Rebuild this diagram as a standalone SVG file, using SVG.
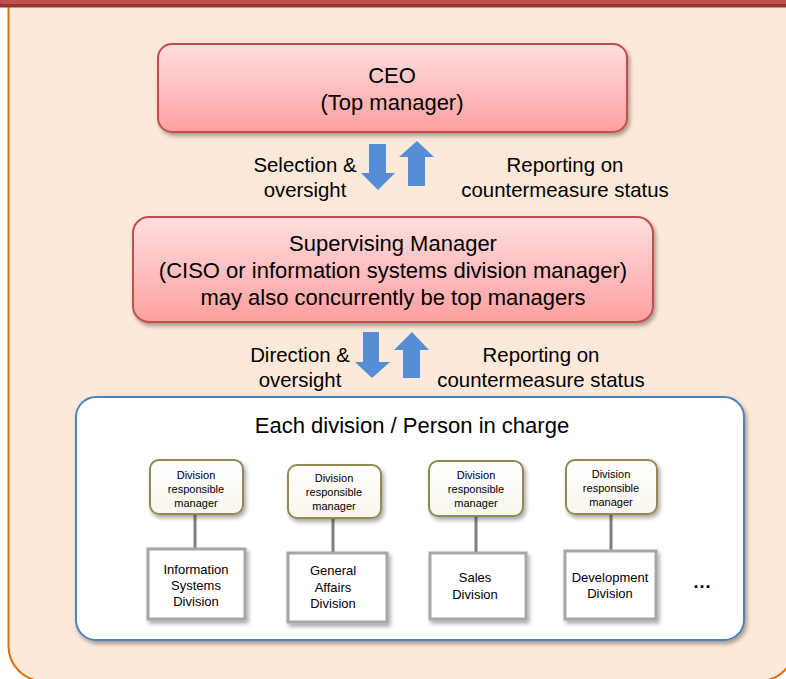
<svg xmlns="http://www.w3.org/2000/svg" width="786" height="679" viewBox="0 0 786 679">
<defs>
<linearGradient id="pink" x1="0" y1="0" x2="0" y2="1">
<stop offset="0" stop-color="#ffdfe0"/>
<stop offset="1" stop-color="#ff9f9f"/>
</linearGradient>
<linearGradient id="cream" x1="0" y1="0" x2="0" y2="1">
<stop offset="0" stop-color="#ffffff"/>
<stop offset="1" stop-color="#f8f6ec"/>
</linearGradient>
<filter id="sh" x="-10%" y="-10%" width="125%" height="130%">
<feGaussianBlur in="SourceAlpha" stdDeviation="2"/>
<feOffset dx="2" dy="3" result="b"/>
<feComponentTransfer><feFuncA type="linear" slope="0.35"/></feComponentTransfer>
<feMerge><feMergeNode/><feMergeNode in="SourceGraphic"/></feMerge>
</filter>
<style>
text{font-family:"Liberation Sans",Arial,sans-serif;fill:#000;text-anchor:middle}
.big{font-size:22px}
.lbl{font-size:20.4px}
.sm{font-size:11px}
.dv{font-size:13px}
.mgr{fill:url(#cream);stroke:#938953;stroke-width:2}
.div{fill:#fff;stroke:#a6a6a6;stroke-width:3}
.conn{stroke:#7f7f7f;stroke-width:3}
.arr{fill:#558ed5}
</style>
</defs>
<rect x="0" y="0" width="786" height="679" fill="#ffffff"/>
<rect x="8.5" y="-40" width="786" height="721" rx="35" fill="#fde9d9" stroke="#e36c09" stroke-width="2"/>
<rect x="0" y="0" width="786" height="4" fill="#c0504d"/>
<rect x="0" y="4" width="786" height="3.5" fill="#943634"/>

<g id="ceo">
<rect x="158" y="44" width="469" height="88" rx="14" fill="url(#pink)" stroke="#c0504d" stroke-width="2" filter="url(#sh)"/>
<text class="big" x="392" y="83">CEO</text>
<text class="big" x="392" y="110">(Top manager)</text>
</g>

<g id="supervisor">
<rect x="133" y="217" width="520" height="105" rx="16" fill="url(#pink)" stroke="#c0504d" stroke-width="2" filter="url(#sh)"/>
<text class="big" x="393" y="251">Supervising Manager</text>
<text class="big" x="393" y="278">(CISO or information systems division manager)</text>
<text class="big" x="393" y="305">may also concurrently be top managers</text>
</g>

<g id="divisions">
<rect x="76" y="397" width="668" height="243" rx="20" fill="#ffffff" stroke="#4f81bd" stroke-width="2" filter="url(#sh)"/>
<text class="big" x="412" y="433">Each division / Person in charge</text>
<text x="702" y="588" style="font-size:19px;font-weight:bold">…</text>
</g>

<g id="connectors">
<polygon class="arr" points="369,144 386,144 386,173 395,173 378,190 361,173 369,173"/>
<polygon class="arr" points="417,141 434,157 425,157 425,186 408,186 408,157 399,157"/>
<polygon class="arr" points="363,332 379,332 379,362 390,362 372,378 355,362 363,362"/>
<polygon class="arr" points="412,332 429,350 420,350 420,378 403,378 403,350 394,350"/>
<line class="conn" x1="195" y1="514" x2="195" y2="548"/>
<line class="conn" x1="333" y1="518" x2="333" y2="552"/>
<line class="conn" x1="476" y1="516" x2="476" y2="552"/>
<line class="conn" x1="611" y1="514" x2="611" y2="550"/>
</g>

<g id="label-selection">
<text class="lbl" x="305" y="172">Selection &amp;</text>
<text class="lbl" x="305" y="197">oversight</text>
</g>
<g id="label-report1">
<text class="lbl" x="565" y="172">Reporting on</text>
<text class="lbl" x="565" y="197">countermeasure status</text>
</g>
<g id="label-direction">
<text class="lbl" x="300" y="362">Direction &amp;</text>
<text class="lbl" x="300" y="387">oversight</text>
</g>
<g id="label-report2">
<text class="lbl" x="541" y="362">Reporting on</text>
<text class="lbl" x="541" y="387">countermeasure status</text>
</g>

<g id="mgr1">
<rect class="mgr" x="150" y="460" width="93" height="54" rx="9" filter="url(#sh)"/>
<text class="sm" x="196" y="479">Division</text>
<text class="sm" x="196" y="493">responsible</text>
<text class="sm" x="196" y="507">manager</text>
</g>
<g id="mgr2">
<rect class="mgr" x="288" y="465" width="93" height="53" rx="9" filter="url(#sh)"/>
<text class="sm" x="334" y="482">Division</text>
<text class="sm" x="334" y="496">responsible</text>
<text class="sm" x="334" y="510">manager</text>
</g>
<g id="mgr3">
<rect class="mgr" x="429" y="461" width="94" height="55" rx="9" filter="url(#sh)"/>
<text class="sm" x="476" y="479">Division</text>
<text class="sm" x="476" y="493">responsible</text>
<text class="sm" x="476" y="507">manager</text>
</g>
<g id="mgr4">
<rect class="mgr" x="566" y="460" width="91" height="54" rx="9" filter="url(#sh)"/>
<text class="sm" x="611" y="478">Division</text>
<text class="sm" x="611" y="492">responsible</text>
<text class="sm" x="611" y="506">manager</text>
</g>

<g id="div-is">
<rect class="div" x="148" y="549" width="97" height="70" filter="url(#sh)"/>
<text class="dv" x="196" y="574">Information</text>
<text class="dv" x="196" y="590">Systems</text>
<text class="dv" x="196" y="606">Division</text>
</g>
<g id="div-ga">
<rect class="div" x="288" y="553" width="99" height="69" filter="url(#sh)"/>
<text class="dv" x="333" y="575">General</text>
<text class="dv" x="333" y="592">Affairs</text>
<text class="dv" x="333" y="608">Division</text>
</g>
<g id="div-sales">
<rect class="div" x="430" y="553" width="96" height="66" filter="url(#sh)"/>
<text class="dv" x="475" y="582">Sales</text>
<text class="dv" x="475" y="599">Division</text>
</g>
<g id="div-dev">
<rect class="div" x="565" y="551" width="91" height="68" filter="url(#sh)"/>
<text class="dv" x="610" y="582">Development</text>
<text class="dv" x="610" y="598">Division</text>
</g>
</svg>
